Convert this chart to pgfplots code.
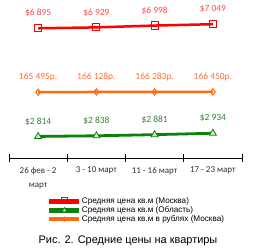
\documentclass[border=0pt]{standalone}
\usepackage{fontspec}
\setmainfont{Carlito}
\newfontfamily\arialf{Liberation Sans}
\usepackage{pgfplots}
\pgfplotsset{compat=1.18}
\definecolor{redline}{HTML}{FF0000}
\definecolor{redlab}{HTML}{FF4A4A}
\definecolor{greenline}{HTML}{0A820A}
\definecolor{greenlab}{HTML}{2F822F}
\definecolor{greenfill}{HTML}{CDE8CD}
\definecolor{orangeline}{HTML}{FF6A10}
\definecolor{orangelab}{HTML}{FF7038}
\definecolor{ticktext}{HTML}{303030}
\begin{document}
\begin{tikzpicture}[x=1bp,y=1bp]
\path[use as bounding box] (0,0) rectangle (254,251);
\begin{axis}[
  at={(9bp,93bp)}, anchor=south west,
  scale only axis, width=233bp, height=159bp,
  xmin=-0.5, xmax=3.5, ymin=2000, ymax=8000,
  axis x line=bottom, axis y line=none,
  axis line style={-, black, line width=0.8bp},
  xtick={0,1,2,3},
  xticklabels={{26 фев - 2\\март},{3 - 10 март},{11 - 16 март},{17 - 23 март}},
  major tick length=0pt,
  xticklabel style={font=\fontsize{9}{14.5}\selectfont, text=ticktext, align=center, yshift=-5.5bp},
  extra x ticks={-0.5,0.5,1.5,2.5,3.5},
  extra x tick labels={},
  extra x tick style={major tick length=8bp, tick align=center, tick style={black, line width=0.8bp}},
  clip=false,
  nodes near coords,
  point meta=explicit symbolic,
  every node near coord/.append style={anchor=center, yshift=15bp, font=\fontsize{9.5}{11}\selectfont},
]
\addplot[color=redline, line width=2.5bp, mark=square, mark size=3.6bp,
  mark options={draw=redline, fill=none, line width=1bp},
  every node near coord/.append style={text=redlab}]
  coordinates {(0,6895)[\$6 895] (1,6929)[\$6 929] (2,6998)[\$6 998] (3,7049)[\$7 049]};
\addplot[color=greenline, line width=2.8bp, mark=triangle*, mark size=4bp,
  mark options={draw=greenline, fill=greenfill, line width=0.8bp},
  every node near coord/.append style={text=greenlab}]
  coordinates {(0,2814)[\$2 814] (1,2838)[\$2 838] (2,2881)[\$2 881] (3,2934)[\$2 934]};
\end{axis}
\begin{axis}[
  at={(9bp,93bp)}, anchor=south west,
  scale only axis, width=233bp, height=159bp,
  xmin=-0.5, xmax=3.5, ymin=0, ymax=400000,
  hide axis, clip=false,
  nodes near coords,
  point meta=explicit symbolic,
  every node near coord/.append style={anchor=center, yshift=15bp, font=\fontsize{9.5}{11}\selectfont},
  legend style={at={(0.163,-0.245)}, anchor=north west, draw=none, fill=none,
    font=\arialf\fontsize{8.2}{9}\selectfont, inner sep=0pt, row sep=0pt,
    nodes={inner sep=0.25bp, text height=6.1bp, text depth=2.1bp}},
  legend cell align=left,
  legend image code/.code={\draw[mark repeat=2, mark phase=2] plot coordinates {(0bp,0bp) (15bp,0bp) (30bp,0bp)};},
]
\addlegendimage{color=redline, line width=4.5bp, mark=square, mark size=3bp, mark options={draw=redline, fill=none, line width=0.8bp, yshift=1.5bp}}
\addlegendentry{Средняя цена кв.м (Москва)}
\addlegendimage{color=greenline, line width=4.5bp, mark=triangle*, mark size=2.8bp, mark options={draw=greenline, fill=greenfill, line width=0.7bp}}
\addlegendentry{Средняя цена кв.м (Область)}
\addplot[color=orangeline, line width=2.5bp, mark=diamond, mark size=3.2bp,
  mark options={draw=orangeline, fill=none, line width=1bp},
  every node near coord/.append style={text=orangelab}, forget plot]
  coordinates {(0,165495)[165 495р.] (1,166128)[166 128р.] (2,166283)[166 283р.] (3,166450)[166 450р.]};
\addlegendimage{color=orangeline, line width=4bp, mark=diamond*, mark size=2.2bp, mark options={draw=orangeline, fill=orangeline, line width=0.6bp}}
\addlegendentry{Средняя цена кв.м в рублях (Москва)}
\end{axis}
\node[font=\arialf\fontsize{11}{13}\selectfont, anchor=center] at (128bp,10bp) {Рис. 2. Средние цены на квартиры};
\end{tikzpicture}
\end{document}
